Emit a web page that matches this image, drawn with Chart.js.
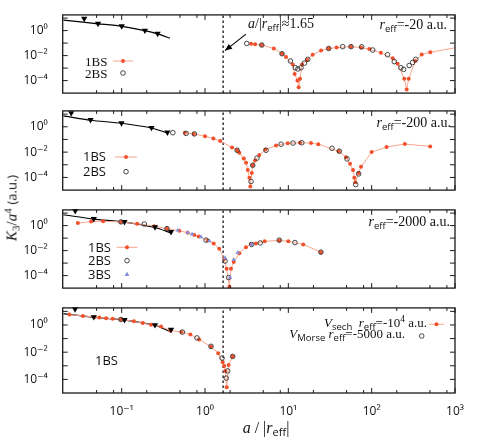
<!DOCTYPE html>
<html><head><meta charset="utf-8">
<script src="https://cdn.jsdelivr.net/npm/chart.js@4.4.1/dist/chart.umd.min.js"></script>
<style>
html,body{margin:0;padding:0;background:#fff}
body{position:relative;width:477px;height:443px;overflow:hidden}
canvas{position:absolute;left:0}
.t{position:absolute;white-space:nowrap;line-height:1;color:#111;font-family:"Liberation Serif","Times New Roman",serif;font-size:13px}
.s{font-family:"Open Sans","DejaVu Sans",sans-serif}
.t sub{font-family:"Open Sans",sans-serif;font-size:9.5px;vertical-align:-3px;line-height:0}
.t sup{font-size:9.5px;vertical-align:5px;line-height:0}
</style></head><body>
<canvas id="c1" width="477" height="88" style="top:10px"></canvas>
<canvas id="c2" width="477" height="89" style="top:106px"></canvas>
<canvas id="c3" width="477" height="88" style="top:205px"></canvas>
<canvas id="c4" width="477" height="140" style="top:303px"></canvas>

<div class="t" style="left:248px;top:17px;font-size:14px"><i>a</i>/|<i>r</i><sub>eff</sub>|≈1.65</div>
<div class="t" style="right:30px;top:18px;font-size:14px"><i>r</i><sub>eff</sub>=-20 a.u.</div>
<div class="t" style="left:85px;top:54.5px">1BS</div>
<div class="t" style="left:85px;top:66.5px">2BS</div>

<div class="t" style="right:26px;top:116px;font-size:14px"><i>r</i><sub>eff</sub>=-200 a.u.</div>
<div class="t s" style="left:83px;top:150px">1BS</div>
<div class="t s" style="left:83px;top:165px">2BS</div>

<div class="t" style="right:27px;top:215px;font-size:14px"><i>r</i><sub>eff</sub>=-2000 a.u.</div>
<div class="t s" style="left:88px;top:240.5px">1BS</div>
<div class="t s" style="left:88px;top:254px">2BS</div>
<div class="t s" style="left:88px;top:268px">3BS</div>

<div class="t s" style="left:95px;top:354px">1BS</div>
<div class="t" style="right:50px;top:316px"><i>V</i><sub>sech</sub>&nbsp;&nbsp;<i>r</i><sub>eff</sub>=-10<sup>4</sup> a.u.</div>
<div class="t" style="right:72px;top:326.5px"><i>V</i><sub>Morse</sub> <i>r</i><sub>eff</sub>=-5000 a.u.</div>

<div class="t" style="left:266px;top:420px;font-size:16px;transform:translateX(-50%)"><i>a</i> / |<i>r</i><sub style="font-size:11px">eff</sub>|</div>
<div class="t" style="left:12px;top:208px;font-size:15px;transform:translate(-50%,-50%) rotate(-90deg)"><i>K</i><sub style="font-family:'Liberation Serif';font-size:11px">3</sub>/<i>a</i><sup style="font-size:11px">4</sup> <span class="s" style="font-size:13px">(a.u.)</span></div>

<script>
// ---- axes ----
const X_MIN = 0.0196, X_MAX = 1000, Y_MIN = 1e-5, Y_MAX = 18;
const xTickValues = [0.1, 1, 10, 100, 1000];
const xTickLabels = ['10⁻¹', '10⁰', '10¹', '10²', '10³'];
const xMinorTicks = [0.05, 0.08, 0.2, 0.5, 0.8, 2, 5, 8, 20, 50, 80, 200, 500, 800];
const yTickValues = [1e-4, 1e-2, 1];
const yTickLabels = ['10⁻⁴', '10⁻²', '10⁰'];
const yDecadeTicks = [1e-4, 1e-3, 1e-2, 1e-1, 1, 10];
const aCrit = 1.65;

// ---- panel 1 : r_eff = -20 ----
const p1TriX = [0.0355, 0.052, 0.10, 0.19, 0.27];
const p1TriY = [9.0, 3.6, 2.3, 1.03, 0.58];
const p1FitX = [0.02, 0.052, 0.10, 0.19, 0.27, 0.38];
const p1FitY = [6.9, 3.5, 2.2, 1.0, 0.55, 0.245];
const p1B1X = [3.57, 3.99, 4.80, 6.69, 8.40, 9.38, 11.3, 11.9, 12.9, 13.3, 13.8, 14.6, 16.8, 19.6, 24.7, 30.5, 38.0, 56.5, 74.5, 93.6, 129, 179, 205, 246, 263, 278, 333, 398, 505, 1100];
const p1B1Y = [0.087, 0.079, 0.070, 0.037, 0.0141, 0.0079, 0.0019, 3.4e-4, 1.0e-4, 2.9e-5, 1.4e-4, 1.9e-3, 4.5e-3, 0.0118, 0.025, 0.037, 0.044, 0.052, 0.044, 0.033, 0.0167, 0.006, 0.0022, 1.4e-4, 1.9e-5, 1.4e-4, 3.7e-3, 0.0125, 0.0186, 0.047];
const p1B2X = [3.17, 4.80, 8.40, 10.6, 12.1, 13.0, 14.2, 15.6, 17.1, 30.5, 44.9, 56.5, 75.9, 103, 155, 187, 224, 242, 282, 310, 338];
const p1B2Y = [0.093, 0.070, 0.0141, 3.7e-3, 1.07e-3, 8.5e-4, 1.07e-3, 2.5e-3, 5e-3, 0.037, 0.052, 0.052, 0.05, 0.028, 0.0118, 3.3e-3, 1.07e-3, 7.9e-4, 1.6e-3, 2.8e-3, 5e-3];
const arrowX = [3.1, 1.74];
const arrowY = [0.52, 0.025];

// ---- panel 2 : r_eff = -200 ----
const p2TriX = [0.0248, 0.0423, 0.0995, 0.228, 0.354];
const p2TriY = [12.3, 3.5, 1.98, 0.84, 0.36];
const p2FitX = [0.02, 0.0423, 0.0995, 0.228, 0.354];
const p2FitY = [7.4, 3.3, 1.9, 0.8, 0.33];
const p2B1X = [0.573, 0.734, 1.0, 1.26, 1.52, 2.11, 2.43, 2.58, 2.92, 3.11, 3.26, 3.41, 3.50, 3.64, 3.74, 3.99, 4.49, 5.30, 7.12, 9.84, 13.8, 18.7, 22.9, 40.2, 49.2, 55.0, 59.7, 61.9, 63.6, 69.8, 74.5, 100, 151, 250, 504];
const p2B1Y = [0.341, 0.274, 0.18, 0.117, 0.074, 0.0235, 0.014, 0.0091, 0.0032, 1.44e-3, 3.9e-4, 9.5e-5, 1.95e-5, 2.2e-4, 9.2e-4, 2.15e-3, 5.8e-3, 0.0158, 0.033, 0.050, 0.055, 0.052, 0.042, 0.0118, 3.9e-3, 1.23e-3, 3.9e-4, 9.5e-5, 4.1e-5, 2.2e-4, 7e-4, 0.01, 0.025, 0.044, 0.028];
const p2B2X = [0.411, 0.593, 0.746, 2.43, 3.57, 3.74, 4.21, 5.4, 8.17, 11.4, 14.5, 33.4, 40.9, 50.6, 64.3, 69.8];
const p2B2Y = [0.34, 0.30, 0.274, 0.014, 4.8e-5, 9.2e-4, 3.4e-3, 0.014, 0.042, 0.052, 0.055, 0.02, 0.0118, 2.9e-3, 2.7e-5, 1.9e-4];

// ---- panel 3 : r_eff = -2000 ----
const p3TriX = [0.0277, 0.0463, 0.108, 0.251, 0.391];
const p3TriY = [15, 3.5, 1.98, 0.75, 0.32];
const p3FitX = [0.02, 0.0463, 0.108, 0.251, 0.391];
const p3FitY = [7.4, 3.3, 1.9, 0.7, 0.26];
const p3B1X = [0.0298, 0.043, 0.060, 0.098, 0.153, 0.247, 0.35, 0.492, 0.62, 0.744, 0.84, 1.08, 1.27, 1.48, 1.70, 1.82, 1.96, 2.05, 2.21, 2.58, 3.10, 3.56, 4.09, 5.2, 7.8, 10.0, 15.1, 24.6];
const p3B1Y = [1.58, 2.09, 2.23, 1.98, 1.41, 0.89, 0.57, 0.38, 0.27, 0.18, 0.136, 0.065, 0.037, 0.0142, 2.1e-3, 3.5e-4, 1.3e-5, 3.5e-4, 1.23e-3, 6e-3, 0.0186, 0.033, 0.037, 0.055, 0.065, 0.055, 0.031, 7.5e-3];
const p3B2X = [0.098, 0.187, 0.35, 1.03, 1.74, 1.92, 3.63, 4.6, 7.78, 12.0, 24.6];
const p3B2Y = [1.98, 1.34, 0.57, 0.069, 1.45e-3, 7e-5, 0.031, 0.041, 0.069, 0.044, 7.5e-3];
const p3B3X = [0.471, 0.62, 0.70, 0.895, 1.13, 1.74, 1.99, 2.21, 2.47, 3.63];
const p3B3Y = [0.426, 0.27, 0.204, 0.123, 0.058, 2.6e-3, 7e-5, 1.9e-3, 6.8e-3, 0.031];

// ---- panel 4 : r_eff = -1e4 (sech) / -5000 (Morse) ----
const p4TriX = [0.0276, 0.0463, 0.108, 0.251, 0.391];
const p4TriY = [14.6, 3.9, 2.39, 1.0, 0.46];
const p4FitX = [0.02, 0.0463, 0.108, 0.251, 0.391];
const p4FitY = [6.85, 3.7, 2.3, 0.95, 0.30];
const p4SechX = [0.0236, 0.0342, 0.0471, 0.054, 0.065, 0.078, 0.098, 0.14, 0.179, 0.225, 0.297, 0.384, 0.52, 0.667, 0.85, 1.18, 1.44, 1.63, 1.70, 1.75, 1.82, 1.92, 2.15];
const p4SechY = [5.8, 4.6, 3.9, 3.55, 3.16, 2.82, 2.55, 1.84, 1.39, 1.05, 0.76, 0.39, 0.31, 0.203, 0.085, 0.0256, 8.5e-3, 1.83e-3, 9.5e-4, 4.2e-4, 2.7e-5, 1.12e-3, 4.9e-3];
const p4MorseX = [0.098, 0.535, 0.80, 1.18, 1.60, 1.80, 1.87, 2.15];
const p4MorseY = [2.55, 0.30, 0.112, 0.027, 3.7e-3, 1.24e-4, 4.2e-4, 4.9e-3];

// ---- styling helpers ----
const ORANGE_DOT = '#f2502a', ORANGE_LINE = '#f8a58e', CIRCLE = '#333', BLUE = '#8591dc';
const pts = (xs, ys) => xs.map((x, i) => ({x, y: ys[i]}));
const s1BS = (xs, ys) => ({data: pts(xs, ys), showLine: true, borderColor: ORANGE_LINE, borderWidth: 1, pointRadius: 2, pointBackgroundColor: ORANGE_DOT, pointBorderWidth: 0, order: 3});
const s2BS = (xs, ys) => ({data: pts(xs, ys), showLine: false, pointRadius: 2.3, pointBackgroundColor: 'rgba(255,255,255,0)', pointBorderColor: CIRCLE, pointBorderWidth: 0.9, order: 1});
const s3BS = (xs, ys) => ({data: pts(xs, ys), showLine: false, pointStyle: 'triangle', pointRadius: 2.6, pointBackgroundColor: BLUE, pointBorderColor: BLUE, pointBorderWidth: 0, order: 0});
const sTri = (xs, ys) => ({data: pts(xs, ys), showLine: false, pointStyle: 'triangle', pointRotation: 180, pointRadius: 3.6, pointBackgroundColor: '#000', pointBorderColor: '#000', pointBorderWidth: 0, clip: false, order: 2});
const sFit = (xs, ys) => ({data: pts(xs, ys), showLine: true, pointRadius: 0, borderColor: '#000', borderWidth: 1.2, tension: 0.25, order: 4});
const sDash = () => ({data: [{x: aCrit, y: Y_MIN}, {x: aCrit, y: Y_MAX}], showLine: true, pointRadius: 0, borderColor: '#222', borderWidth: 1.4, borderDash: [2.5, 2.5], order: 5});
const sArrow = () => ({data: pts(arrowX, arrowY), showLine: true, pointRadius: 0, borderColor: '#000', borderWidth: 1.1, order: 6});

function decor(canvasTop, legend, withArrow) {
  return {
    id: 'decor',
    afterDatasetsDraw(chart) {
      const {ctx, chartArea: a} = chart;
      const xs = chart.scales.x, ys = chart.scales.y;
      ctx.save();
      ctx.strokeStyle = '#1a1a1a'; ctx.lineWidth = 1;
      const seg = (x1, y1, x2, y2) => {ctx.beginPath(); ctx.moveTo(x1, y1); ctx.lineTo(x2, y2); ctx.stroke();};
      xTickValues.forEach(v => {const p = xs.getPixelForValue(v); seg(p, a.bottom, p, a.bottom - 5); seg(p, a.top, p, a.top + 5);});
      xMinorTicks.forEach(v => {const p = xs.getPixelForValue(v); seg(p, a.bottom, p, a.bottom - 3); seg(p, a.top, p, a.top + 3);});
      yDecadeTicks.forEach(v => {const p = ys.getPixelForValue(v); seg(a.left, p, a.left + 5, p); seg(a.right, p, a.right - 5, p);});
      ctx.lineWidth = 1.3;
      ctx.strokeRect(a.left, a.top, a.right - a.left, a.bottom - a.top);
      if (withArrow) {
        const x0 = xs.getPixelForValue(arrowX[0]), y0 = ys.getPixelForValue(arrowY[0]);
        const x1 = xs.getPixelForValue(arrowX[1]), y1 = ys.getPixelForValue(arrowY[1]);
        const ang = Math.atan2(y1 - y0, x1 - x0), L = 7, W = 3;
        ctx.fillStyle = '#000';
        ctx.beginPath();
        ctx.moveTo(x1, y1);
        ctx.lineTo(x1 - L * Math.cos(ang) + W * Math.sin(ang), y1 - L * Math.sin(ang) - W * Math.cos(ang));
        ctx.lineTo(x1 - L * Math.cos(ang) - W * Math.sin(ang), y1 - L * Math.sin(ang) + W * Math.cos(ang));
        ctx.closePath(); ctx.fill();
      }
      legend.forEach(it => {
        const y = it.y - canvasTop;
        if (it.type === 'line') {
          ctx.strokeStyle = ORANGE_LINE; ctx.lineWidth = 1;
          seg(it.x - it.w / 2, y, it.x + it.w / 2, y);
          ctx.fillStyle = ORANGE_DOT; ctx.beginPath(); ctx.arc(it.x, y, 2, 0, Math.PI * 2); ctx.fill();
        } else if (it.type === 'circle') {
          ctx.strokeStyle = CIRCLE; ctx.lineWidth = 0.9; ctx.beginPath(); ctx.arc(it.x, y, 2.3, 0, Math.PI * 2); ctx.stroke();
        } else if (it.type === 'tri') {
          ctx.fillStyle = BLUE; ctx.strokeStyle = BLUE; ctx.lineWidth = 0;
          Chart.helpers.drawPoint(ctx, {pointStyle: 'triangle', radius: 2.6, rotation: 0, borderWidth: 0}, it.x, y);
          ctx.fill();
        }
      });
      ctx.restore();
    }
  };
}

const tickFont = {family: "'Open Sans', 'DejaVu Sans', sans-serif", size: 12};

function makePanel(id, canvasTop, datasets, legend, bottom, withArrow) {
  return new Chart(document.getElementById(id), {
    type: 'scatter',
    data: {datasets},
    options: {
      responsive: false, animation: false, events: [],
      layout: {padding: {left: 0, right: 22, top: 2, bottom: bottom ? 0 : 2}},
      plugins: {legend: {display: false}, tooltip: {enabled: false}},
      scales: {
        x: {
          type: 'logarithmic', min: X_MIN, max: X_MAX, display: bottom,
          grid: {display: false, drawTicks: false}, border: {display: false},
          afterBuildTicks: s => { s.ticks = xTickValues.map(v => ({value: v})); },
          ticks: {autoSkip: false, maxRotation: 0, padding: 11, color: '#111', font: tickFont, callback: (v, i) => xTickLabels[i]},
          afterFit: s => { s.height = bottom ? 50 : 0; s.paddingLeft = 0; s.paddingRight = 0; }
        },
        y: {
          type: 'logarithmic', min: Y_MIN, max: Y_MAX,
          grid: {display: false, drawTicks: false}, border: {display: false},
          afterBuildTicks: s => { s.ticks = yTickValues.map(v => ({value: v})); },
          ticks: {autoSkip: false, padding: 15, color: '#111', font: tickFont, callback: (v, i) => yTickLabels[i]},
          afterFit: s => { s.width = 62.7; s.paddingTop = 0; s.paddingBottom = 0; }
        }
      }
    },
    plugins: [decor(canvasTop, legend, withArrow)]
  });
}

makePanel('c1', 10, [sTri(p1TriX, p1TriY), sFit(p1FitX, p1FitY), s2BS(p1B2X, p1B2Y), s1BS(p1B1X, p1B1Y), sDash(), sArrow()],
  [{type: 'line', x: 123, y: 61, w: 20}, {type: 'circle', x: 123, y: 73}], false, true);
makePanel('c2', 106, [sTri(p2TriX, p2TriY), sFit(p2FitX, p2FitY), s2BS(p2B2X, p2B2Y), s1BS(p2B1X, p2B1Y), sDash()],
  [{type: 'line', x: 126, y: 157, w: 22}, {type: 'circle', x: 126, y: 171.7}], false, false);
makePanel('c3', 205, [sTri(p3TriX, p3TriY), sFit(p3FitX, p3FitY), s3BS(p3B3X, p3B3Y), s2BS(p3B2X, p3B2Y), s1BS(p3B1X, p3B1Y), sDash()],
  [{type: 'line', x: 127, y: 247.3, w: 21}, {type: 'circle', x: 127, y: 260.7}, {type: 'tri', x: 127, y: 274.7}], false, false);
makePanel('c4', 303, [sTri(p4TriX, p4TriY), sFit(p4FitX, p4FitY), s2BS(p4MorseX, p4MorseY), s1BS(p4SechX, p4SechY), sDash()],
  [{type: 'line', x: 436.5, y: 324.3, w: 15}, {type: 'circle', x: 421.7, y: 336}], true, false);
</script>
</body></html>
